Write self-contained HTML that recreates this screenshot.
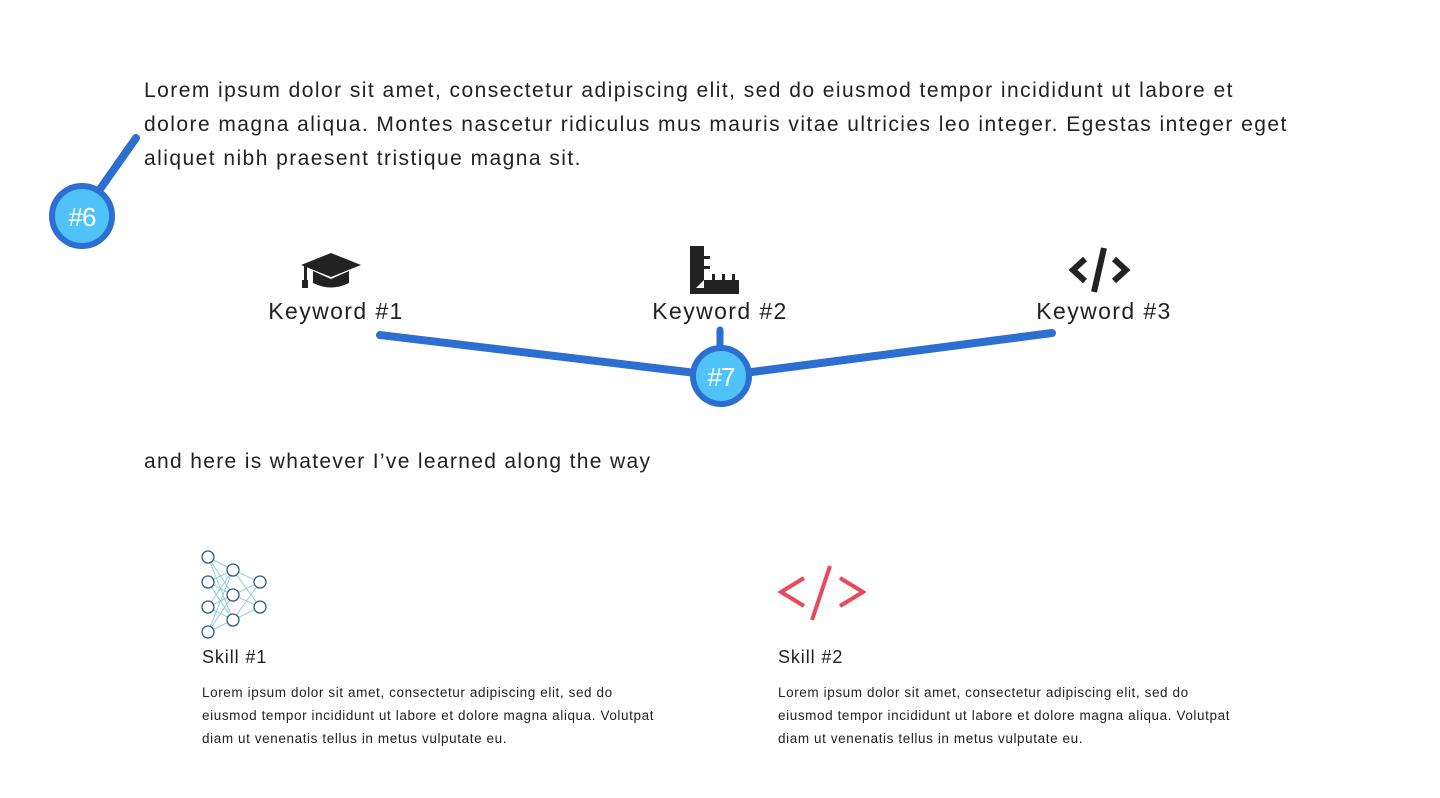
<!DOCTYPE html>
<html><head><meta charset="utf-8"><style>
body{margin:0;width:1440px;height:798px;background:#fff;position:relative;overflow:hidden;font-family:"Liberation Sans",sans-serif;color:#222}
.a{position:absolute;white-space:nowrap}
.p{font-size:21px;line-height:34px;letter-spacing:1.45px}
.kw{font-size:23px;letter-spacing:1.4px;transform:translateX(-50%)}
.sk{font-size:18px;letter-spacing:0.9px}
.sd{font-size:13.5px;line-height:23px;letter-spacing:0.6px}
</style></head><body>
<div class="a p" style="left:144px;top:74px">Lorem ipsum dolor sit amet, consectetur adipiscing elit, sed do eiusmod tempor incididunt ut labore et<br>dolore magna aliqua. Montes nascetur ridiculus mus mauris vitae ultricies leo integer. Egestas integer eget<br>aliquet nibh praesent tristique magna sit.</div>
<svg class="a" style="left:0;top:0" width="1440" height="798">
<line x1="136" y1="138" x2="98" y2="192" stroke="#2d6ed1" stroke-width="8" stroke-linecap="round"/>
<circle cx="82" cy="216" r="30" fill="#4fc3f7" stroke="#2d6ed1" stroke-width="6"/>
<text x="82" y="226" text-anchor="middle" font-family="Liberation Sans" font-size="26" fill="#fff" letter-spacing="-1">#6</text>
<polyline points="380,335 721,376 1052,333" fill="none" stroke="#2d6ed1" stroke-width="8" stroke-linecap="round" stroke-linejoin="round"/>
<line x1="720" y1="330" x2="720" y2="348" stroke="#2d6ed1" stroke-width="7" stroke-linecap="round"/>
<circle cx="721" cy="376" r="28" fill="#4fc3f7" stroke="#2d6ed1" stroke-width="6"/>
<text x="721" y="386" text-anchor="middle" font-family="Liberation Sans" font-size="26" fill="#fff" letter-spacing="-1">#7</text>
<g fill="#222">
<polygon points="301,265 331,253 361,265 331,277"/>
<path d="M313,271 L313,283 Q331,292 349,283 L349,271 L331,279 Z"/>
<rect x="304" y="266" width="3" height="16"/><rect x="302" y="280" width="6" height="8"/>
</g>
<g fill="#222">
<path d="M690,246 L704,246 L704,280 L739,280 L739,294 L690,294 Z"/>
<rect x="704" y="256" width="6" height="3"/><rect x="704" y="266" width="6" height="3"/>
<rect x="712" y="274" width="3" height="6"/><rect x="722" y="274" width="3" height="6"/><rect x="732" y="274" width="3" height="6"/>
<polygon points="696,288 704,280 704,288" fill="#fff"/>
</g>
<g fill="none" stroke="#222" stroke-width="6">
<polyline points="1085,259 1073,270 1085,281"/><polyline points="1114,259 1126,270 1114,281"/>
<line x1="1104" y1="248" x2="1094" y2="292"/>
</g>
<g>
<g stroke="#7fc4cc" stroke-width="0.8">
<line x1="208" y1="557" x2="233" y2="570"/><line x1="208" y1="557" x2="233" y2="595"/><line x1="208" y1="557" x2="233" y2="620"/>
<line x1="208" y1="582" x2="233" y2="570"/><line x1="208" y1="582" x2="233" y2="595"/><line x1="208" y1="582" x2="233" y2="620"/>
<line x1="208" y1="607" x2="233" y2="570"/><line x1="208" y1="607" x2="233" y2="595"/><line x1="208" y1="607" x2="233" y2="620"/>
<line x1="208" y1="632" x2="233" y2="570"/><line x1="208" y1="632" x2="233" y2="595"/><line x1="208" y1="632" x2="233" y2="620"/>
<line x1="233" y1="570" x2="260" y2="582"/><line x1="233" y1="570" x2="260" y2="607"/>
<line x1="233" y1="595" x2="260" y2="582"/><line x1="233" y1="595" x2="260" y2="607"/>
<line x1="233" y1="620" x2="260" y2="582"/><line x1="233" y1="620" x2="260" y2="607"/>
</g>
<g fill="#fff" stroke="#2a5a8a" stroke-width="1.3">
<circle cx="208" cy="557" r="6"/><circle cx="208" cy="582" r="6"/><circle cx="208" cy="607" r="6"/><circle cx="208" cy="632" r="6"/>
<circle cx="233" cy="570" r="6"/><circle cx="233" cy="595" r="6"/><circle cx="233" cy="620" r="6"/>
<circle cx="260" cy="582" r="6"/><circle cx="260" cy="607" r="6"/>
</g></g>
<g fill="none" stroke="#e84a5a" stroke-width="4">
<polyline points="804,578 781,592 804,606"/><polyline points="840,578 863,592 840,606"/>
<line x1="830" y1="566" x2="812" y2="620"/>
</g>
</svg>
<div class="a kw" style="left:336px;top:298px">Keyword #1</div>
<div class="a kw" style="left:720px;top:298px">Keyword #2</div>
<div class="a kw" style="left:1104px;top:298px">Keyword #3</div>
<div class="a p" style="left:144px;top:445px;letter-spacing:1.33px">and here is whatever I’ve learned along the way</div>
<div class="a sk" style="left:202px;top:647px">Skill #1</div>
<div class="a sd" style="left:202px;top:681px">Lorem ipsum dolor sit amet, consectetur adipiscing elit, sed do<br>eiusmod tempor incididunt ut labore et dolore magna aliqua. Volutpat<br>diam ut venenatis tellus in metus vulputate eu.</div>
<div class="a sk" style="left:778px;top:647px">Skill #2</div>
<div class="a sd" style="left:778px;top:681px">Lorem ipsum dolor sit amet, consectetur adipiscing elit, sed do<br>eiusmod tempor incididunt ut labore et dolore magna aliqua. Volutpat<br>diam ut venenatis tellus in metus vulputate eu.</div>
</body></html>
